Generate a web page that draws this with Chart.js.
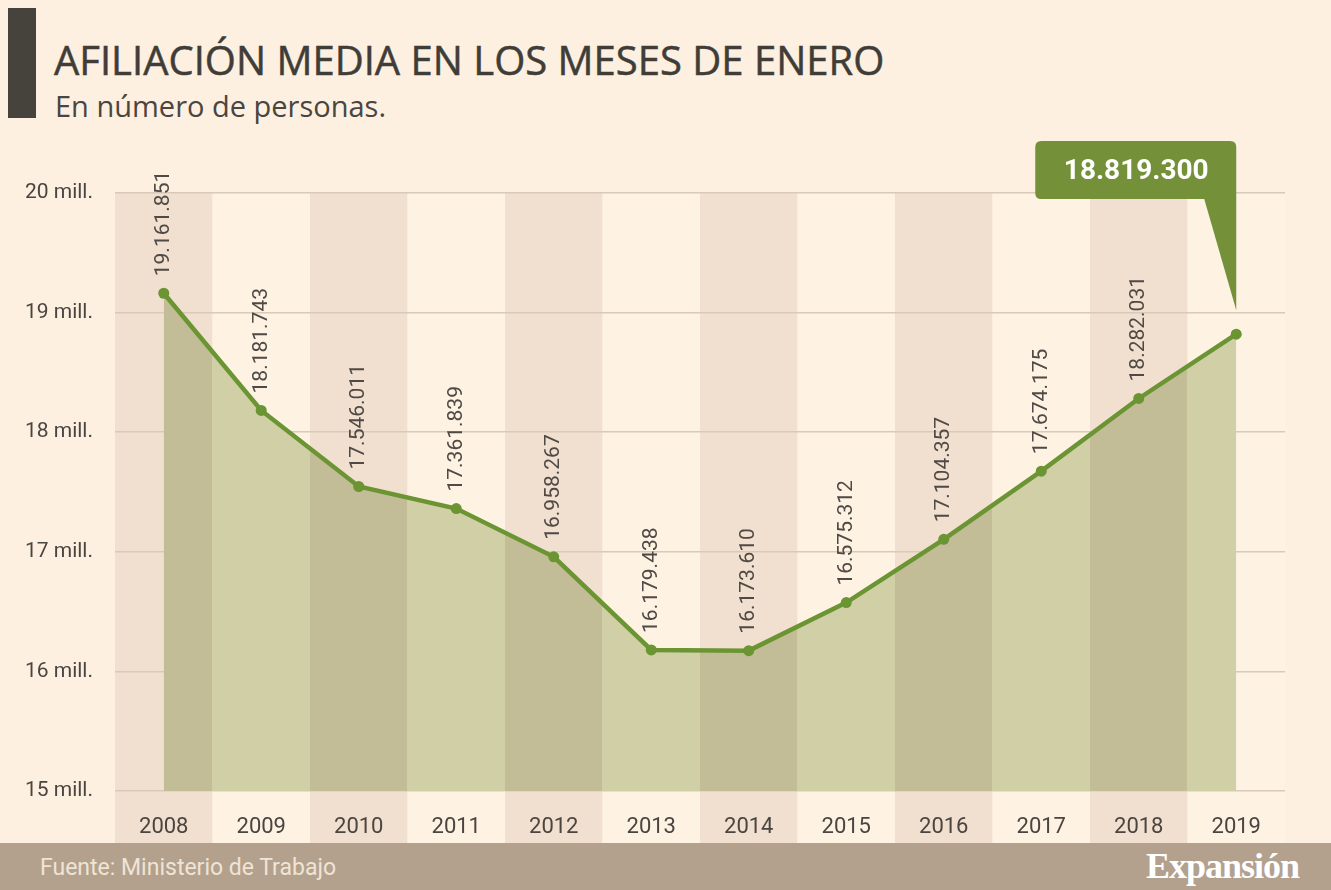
<!DOCTYPE html>
<html>
<head>
<meta charset="utf-8">
<script src="https://cdn.jsdelivr.net/npm/chart.js@4"></script>
<style>
  html, body { margin: 0; padding: 0; }
  body { width: 1331px; height: 890px; background: #fdf0e0; position: relative; overflow: hidden; font-family: "Open Sans", sans-serif; }
  #bar { position: absolute; left: 8px; top: 8px; width: 28px; height: 110px; background: #45433b; }
  #title { position: absolute; left: 54px; top: 40px; font-size: 40px; line-height: 1; color: #403d38; white-space: nowrap; -webkit-text-stroke: 0.5px #403d38; }
  #sub { position: absolute; left: 55px; top: 91px; font-size: 29px; line-height: 1; color: #4a4540; white-space: nowrap; }
  #foot { position: absolute; left: 0; top: 843px; width: 1331px; height: 47px; background: #b3a18d; }
  #src { position: absolute; left: 40px; top: 11px; font-family: "Roboto", sans-serif; font-size: 23px; color: #efe4d6; }
  #brand { position: absolute; right: 32px; top: 2px; font-family: "Liberation Serif", serif; font-weight: bold; font-size: 36px; color: #ffffff; letter-spacing: -1px; }
  canvas { position: absolute; left: 0; top: 0; }
</style>
</head>
<body>
<div id="bar"></div>
<div id="title">AFILIACIÓN MEDIA EN LOS MESES DE ENERO</div>
<div id="sub">En número de personas.</div>
<div id="foot"><div id="src">Fuente: Ministerio de Trabajo</div><div id="brand">Expansión</div></div>
<canvas id="lineChart" width="1331" height="890"></canvas>
<script>
const years = ['2008', '2009', '2010', '2011', '2012', '2013', '2014', '2015', '2016', '2017', '2018', '2019'];
const afiliados = [19161851, 18181743, 17546011, 17361839, 16958267, 16179438, 16173610, 16575312, 17104357, 17674175, 18282031, 18819300];
const yTicks = [15000000, 16000000, 17000000, 18000000, 19000000, 20000000];

const narrow = '"Roboto", sans-serif';
const lineGreen = '#6b9433';
const stripeDark = '#f1e0cf';
const stripeLight = '#fef2e3';
const fillDark = '#c2bd97';
const fillLight = '#d0cfa6';

function fmt(v) {
  return v.toString().replace(/\B(?=(\d{3})+(?!\d))/g, '.');
}

// alternate column stripes behind everything
const stripes = {
  id: 'stripes',
  beforeDraw(chart) {
    const { ctx, chartArea, scales } = chart;
    const w = (chartArea.right - chartArea.left) / years.length;
    ctx.save();
    years.forEach((y, i) => {
      const x = scales.x.getPixelForValue(i) - w / 2;
      ctx.fillStyle = i % 2 === 0 ? stripeDark : stripeLight;
      ctx.fillRect(x, chartArea.top, w, 843 - chartArea.top);
    });
    ctx.restore();
  }
};

// rotated value labels and the callout for the last year
const labels = {
  id: 'labels',
  afterDatasetsDraw(chart) {
    const { ctx } = chart;
    const pts = chart.getDatasetMeta(0).data;
    ctx.save();
    ctx.font = '21px ' + narrow;
    ctx.fillStyle = '#4f4a45';
    ctx.textAlign = 'left';
    ctx.textBaseline = 'middle';
    pts.forEach((p, i) => {
      if (i === pts.length - 1) return;
      ctx.save();
      ctx.translate(p.x, p.y - 17);
      ctx.rotate(-Math.PI / 2);
      ctx.fillText(fmt(afiliados[i]), 0, 0);
      ctx.restore();
    });

    const last = pts[pts.length - 1];
    const right = last.x, left = right - 201, top = 141, bottom = 199, r = 6;
    ctx.fillStyle = '#74913a';
    ctx.beginPath();
    ctx.moveTo(left + r, top);
    ctx.lineTo(right - r, top);
    ctx.quadraticCurveTo(right, top, right, top + r);
    ctx.lineTo(right, bottom);
    ctx.lineTo(last.x, last.y - 24);
    ctx.lineTo(right - 32, bottom);
    ctx.lineTo(left + r, bottom);
    ctx.quadraticCurveTo(left, bottom, left, bottom - r);
    ctx.lineTo(left, top + r);
    ctx.quadraticCurveTo(left, top, left + r, top);
    ctx.fill();
    ctx.fillStyle = '#ffffff';
    ctx.font = 'bold 28px ' + narrow;
    ctx.textAlign = 'center';
    ctx.fillText(fmt(afiliados[afiliados.length - 1]), left + 101, 172);
    ctx.restore();
  }
};

const ctx = document.getElementById('lineChart').getContext('2d');
const myChart = new Chart(ctx, {
  type: 'line',
  data: {
    labels: years,
    datasets: [{
      data: afiliados,
      borderColor: lineGreen,
      borderWidth: 4.5,
      tension: 0,
      fill: 'start',
      backgroundColor: function (c) {
        const ca = c.chart.chartArea;
        if (!ca) return fillLight;
        const g = c.chart.ctx.createLinearGradient(ca.left, 0, ca.right, 0);
        years.forEach((y, i) => {
          const col = i % 2 === 0 ? fillDark : fillLight;
          g.addColorStop(i / years.length, col);
          g.addColorStop((i + 1) / years.length, col);
        });
        return g;
      },
      pointRadius: 5.5,
      pointBackgroundColor: lineGreen,
      pointBorderWidth: 0
    }]
  },
  options: {
    responsive: false,
    animation: false,
    layout: { padding: { top: 193, right: 46, bottom: 47, left: 0 } },
    plugins: { legend: { display: false }, tooltip: { enabled: false } },
    scales: {
      x: {
        offset: true,
        grid: { display: false },
        border: { display: false },
        afterFit(scale) { scale.height = 52; },
        ticks: { padding: 15, color: '#4a4540', font: { family: narrow, size: 22 } }
      },
      y: {
        min: 15000000,
        max: 20000000,
        afterFit(scale) { scale.width = 115; },
        afterBuildTicks(scale) { scale.ticks = yTicks.map(v => ({ value: v })); },
        grid: { color: '#d9c9b8', lineWidth: 1.5, drawTicks: false },
        border: { display: false },
        ticks: {
          padding: 22,
          color: '#4a4540',
          font: { family: narrow, size: 21 },
          callback: v => (v / 1000000) + ' mill.'
        }
      }
    }
  },
  plugins: [stripes, labels]
});
</script>
</body>
</html>
